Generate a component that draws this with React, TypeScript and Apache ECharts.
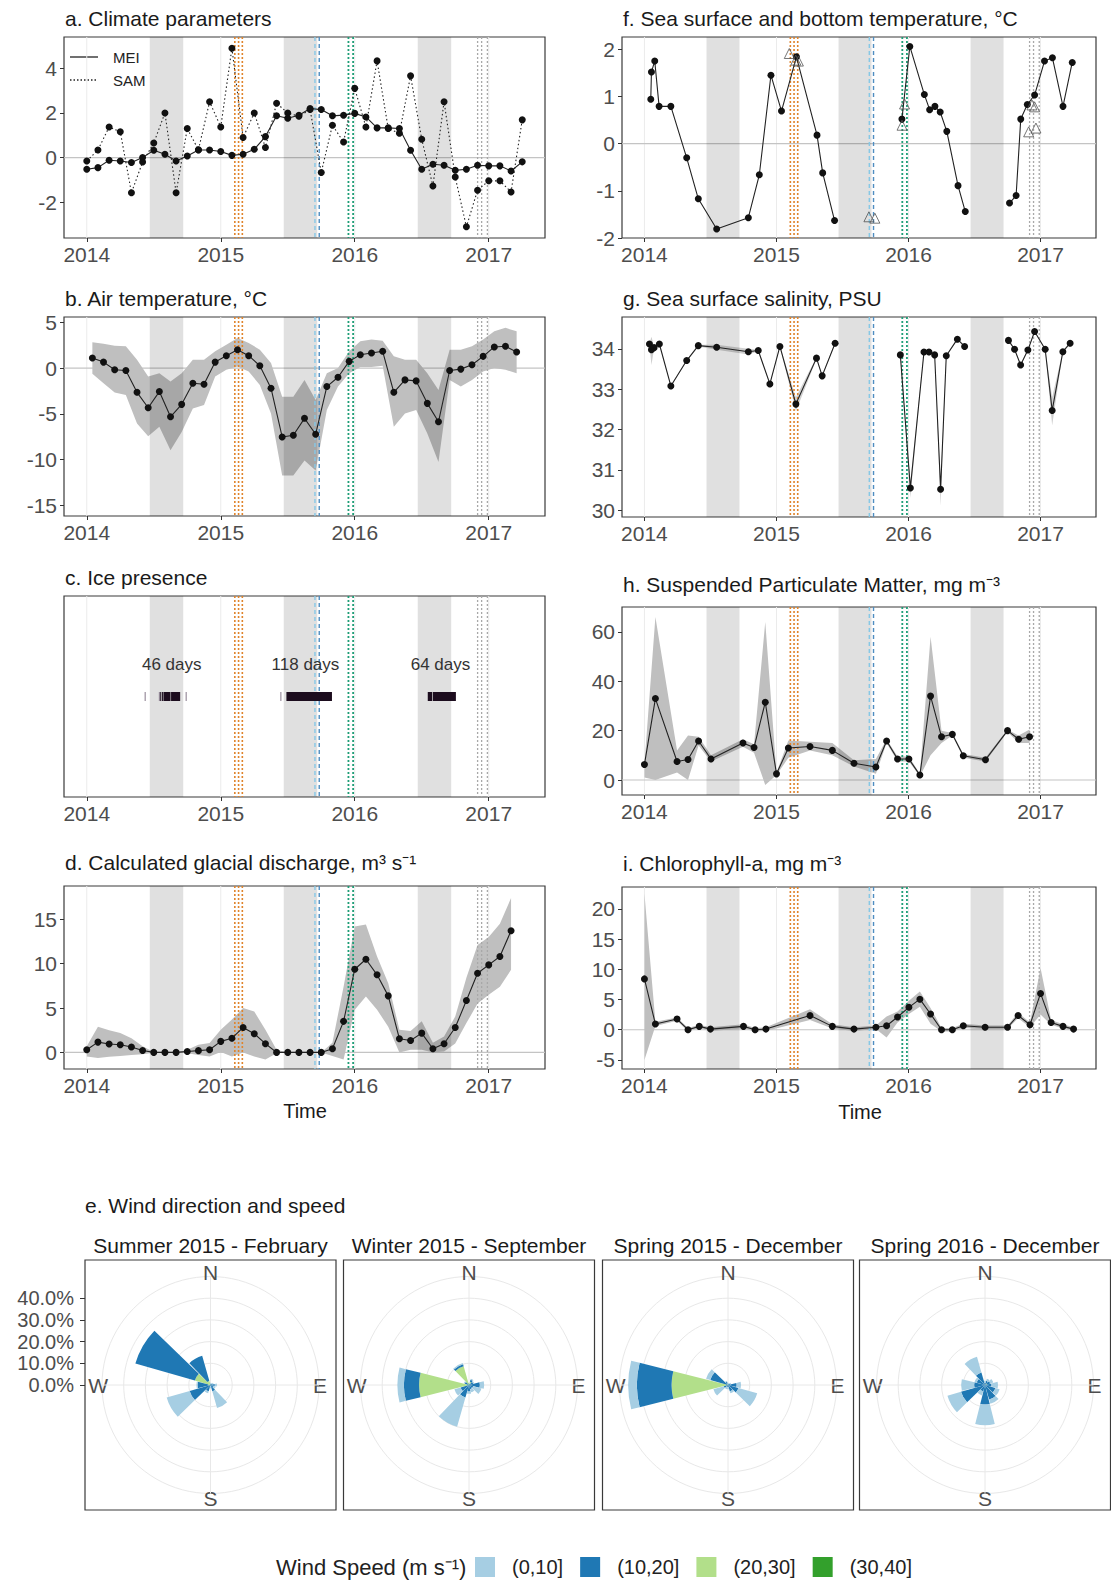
import { useEffect, useRef } from 'react';
import * as echarts from 'echarts';

const FONT = "'Liberation Sans', Arial, Helvetica, sans-serif";
const AXIS_TEXT = '#4d4d4d';

// ---------- shared time axis ----------
const YEAR_TICKS = [2014, 2015, 2016, 2017];
const X_MIN = 2013.83;
const X_MAX = 2017.42;
const WINTER_BANDS = [[2014.47, 2014.72], [2015.47, 2015.72], [2016.47, 2016.72]];
const ORANGE_DATES = [2015.105, 2015.133, 2015.161];
const BLUE_LIGHT_DATES = [2015.703];
const BLUE_DARK_DATES = [2015.735];
const GREEN_DATES = [2015.953, 2015.988];
const GRAY_DATES = [2016.917, 2016.947, 2016.99];

const MONTHS = [
  '2014-01', '2014-02', '2014-03', '2014-04', '2014-05', '2014-06', '2014-07', '2014-08', '2014-09', '2014-10', '2014-11', '2014-12',
  '2015-01', '2015-02', '2015-03', '2015-04', '2015-05', '2015-06', '2015-07', '2015-08', '2015-09', '2015-10', '2015-11', '2015-12',
  '2016-01', '2016-02', '2016-03', '2016-04', '2016-05', '2016-06', '2016-07', '2016-08', '2016-09', '2016-10', '2016-11', '2016-12',
  '2017-01', '2017-02', '2017-03', '2017-04',
];

// ---------- a. climate parameters ----------
const MEI = [
  -0.52, -0.45, -0.12, -0.15, -0.22, 0.0, 0.33, 0.15, -0.15, 0.07, 0.34, 0.34,
  0.27, 0.1, 0.15, 0.37, 0.94, 1.87, 1.76, 1.9, 2.2, 2.15, 1.87, 1.9,
  1.98, 1.82, 1.33, 1.33, 1.3, 0.33, -0.52, -0.3, -0.34, -0.57, -0.52, -0.34,
  -0.37, -0.37, -0.6, -0.19,
];
const SAM = [
  -0.15, 0.34, 1.37, 1.16, -1.57, -0.2, 0.65, 2.0, -1.57, 1.3, 0.35, 2.5,
  1.37, 4.9, 0.9, 2.0, 0.45, 2.43, 2.0, 1.85, 2.15, -0.67, 1.45, 0.7,
  3.1, 1.37, 4.33, 1.3, 1.09, 3.66, 0.82, -1.27, 2.5, -0.87, -3.1, -1.46,
  -1.04, -1.04, -1.54, 1.69,
];

// ---------- b. air temperature (monthly, mid-month) ----------
const AIR_MEAN = [
  1.1, 0.66, -0.18, -0.26, -2.65, -4.34, -2.57, -5.33, -3.97, -1.65, -1.76, 0.66,
  1.36, 2.02, 1.36, 0.26, -2.2, -7.54, -7.35, -5.5, -7.24, -2.02, -1.0, 0.74,
  1.47, 1.65, 1.84, -2.65, -1.29, -1.4, -3.86, -5.88, -0.26, -0.11, 0.37, 1.29,
  2.32, 2.39, 1.76,
];
const AIR_UPPER = [
  2.83, 2.68, 2.46, 2.39, 0.92, -0.92, -0.55, -1.47, -0.55, 0.92, 0.92, 1.84,
  2.57, 3.31, 2.76, 2.02, 0.55, -3.13, -3.13, -1.29, -3.49, -0.55, 0.0, 1.84,
  2.94, 3.13, 3.01, 1.29, 0.92, 0.92, -0.55, -2.39, 2.02, 2.02, 2.39, 3.13,
  4.04, 4.41, 4.04,
];
const AIR_LOWER = [
  -0.63, -1.65, -2.68, -2.94, -6.07, -7.46, -6.43, -9.0, -6.99, -4.41, -4.04, -0.92,
  -0.18, 0.18, -0.37, -1.84, -4.96, -11.76, -11.76, -10.11, -11.21, -4.6, -2.02, -0.55,
  0.11, 0.11, 0.26, -6.43, -4.96, -4.6, -7.17, -10.29, -1.29, -2.02, -1.29, -0.37,
  0.0, -0.18, -0.55,
];

// ---------- c. ice presence ----------
const ICE_SOLID = [
  [2014.548, 2014.556], [2014.561, 2014.567], [2014.572, 2014.625], [2014.629, 2014.697],
  [2015.49, 2015.83], [2016.545, 2016.578], [2016.583, 2016.755],
];
const ICE_FAINT = [[2014.432, 2014.437], [2014.538, 2014.543], [2014.738, 2014.742], [2015.445, 2015.449]];
const ICE_LABELS = ['46 days', '118 days', '64 days'];
const ICE_LABEL_X = [2014.634, 2015.632, 2016.64];

// ---------- d. glacial discharge (monthly) ----------
const DIS_MEAN = [
  0.3, 1.16, 0.94, 0.86, 0.6, 0.22, 0, 0, 0, 0.1, 0.2, 0.3,
  1.24, 1.6, 2.8, 2.1, 0.98, 0, 0, 0, 0, 0, 0.41, 3.5,
  9.37, 10.5, 8.74, 6.37, 1.54, 1.35, 2.17, 0.41, 0.97, 2.8, 5.85, 8.92,
  9.86, 10.8, 13.7,
];
const DIS_UPPER = [
  0.7, 2.9, 2.5, 2.2, 1.6, 0.7, 0.05, 0, 0, 0.3, 0.85, 1.05,
  2.55, 3.7, 5.0, 4.6, 2.55, 0.3, 0, 0, 0, 0, 1.1, 7.4,
  14.2, 14.4, 10.8, 7.8, 2.55, 2.4, 3.5, 1.1, 1.8, 4.05, 8.4, 12.1,
  13.0, 14.5, 17.4,
];
const DIS_LOWER = [
  -0.45, -0.64, -0.5, -0.4, -0.3, -0.2, -0.05, 0, 0, -0.1, -0.3, -0.45,
  0.05, -0.45, 0.0, -0.45, -0.8, -0.1, 0, 0, 0, 0, -0.4, -0.8,
  4.8, 6.3, 4.8, 2.9, 0.0, 0.3, 0.3, 0.0, 0.1, 1.0, 3.3, 5.5,
  6.5, 7.4, 9.3,
];

// ---------- f. sea surface / bottom temperature ----------
const SST1_X = [2014.048, 2014.053, 2014.078, 2014.111, 2014.2, 2014.32, 2014.408, 2014.547, 2014.787, 2014.87, 2014.958, 2015.038, 2015.151, 2015.307, 2015.35, 2015.44];
const SST1_Y = [0.94, 1.52, 1.75, 0.79, 0.79, -0.3, -1.17, -1.81, -1.57, -0.66, 1.45, 0.69, 1.84, 0.18, -0.62, -1.63];
const SST2_X = [2015.95, 2016.01, 2016.12, 2016.16, 2016.2, 2016.24, 2016.29, 2016.375, 2016.43];
const SST2_Y = [0.52, 2.06, 1.04, 0.72, 0.79, 0.67, 0.26, -0.89, -1.44];
const SST3_X = [2016.765, 2016.815, 2016.85, 2016.9, 2016.955, 2017.03, 2017.09, 2017.17, 2017.24];
const SST3_Y = [-1.26, -1.1, 0.52, 0.83, 1.03, 1.75, 1.82, 0.79, 1.72];
const SBT_X = [2015.097, 2015.146, 2015.166, 2015.7, 2015.745, 2015.951, 2015.97, 2016.91, 2016.935, 2016.955, 2016.965];
const SBT_Y = [1.91, 1.77, 1.75, -1.55, -1.58, 0.39, 0.84, 0.25, 0.82, 0.78, 0.33];

// ---------- g. salinity ----------
const SAL1_X = [2014.038, 2014.053, 2014.073, 2014.113, 2014.2, 2014.32, 2014.408, 2014.547, 2014.787, 2014.862, 2014.95, 2015.026, 2015.147, 2015.303, 2015.346, 2015.444];
const SAL1_Y = [34.12, 33.98, 34.03, 34.12, 33.08, 33.71, 34.08, 34.04, 33.93, 33.96, 33.13, 34.06, 32.63, 33.77, 33.33, 34.14];
const SAL1_UPPER = [34.13, 34.3, 34.05, 34.13, 33.1, 33.73, 34.1, 34.1, 34.0, 33.98, 33.15, 34.08, 32.8, 33.8, 33.36, 34.16];
const SAL1_LOWER = [34.1, 33.6, 34.0, 34.1, 33.06, 33.69, 34.06, 33.98, 33.86, 33.94, 33.11, 34.04, 32.45, 33.74, 33.3, 34.12];
const SAL2_X = [2015.938, 2016.014, 2016.117, 2016.155, 2016.198, 2016.243, 2016.286, 2016.37, 2016.425];
const SAL2_Y = [33.85, 30.55, 33.92, 33.92, 33.85, 30.52, 33.83, 34.24, 34.06];
const SAL2_UPPER = [33.87, 30.7, 33.94, 33.94, 33.87, 30.7, 33.85, 34.26, 34.08];
const SAL2_LOWER = [33.83, 30.3, 33.9, 33.9, 33.83, 30.1, 33.81, 34.22, 34.04];
const SAL3_X = [2016.757, 2016.803, 2016.849, 2016.904, 2016.955, 2017.035, 2017.088, 2017.169, 2017.224];
const SAL3_Y = [34.21, 33.99, 33.6, 33.97, 34.43, 33.99, 32.47, 33.93, 34.14];
const SAL3_UPPER = [34.23, 34.01, 33.62, 33.99, 34.45, 34.01, 32.8, 33.95, 34.16];
const SAL3_LOWER = [34.19, 33.97, 33.58, 33.95, 34.41, 33.97, 32.1, 33.91, 34.12];

// ---------- h. suspended particulate matter ----------
const SPM_X = [2014.0, 2014.083, 2014.247, 2014.33, 2014.41, 2014.504, 2014.746, 2014.83, 2014.915, 2015.0, 2015.09, 2015.254, 2015.423, 2015.587, 2015.753, 2015.834, 2015.917, 2016.003, 2016.086, 2016.167, 2016.25, 2016.332, 2016.415, 2016.583, 2016.75, 2016.834, 2016.917];
const SPM_MEAN = [6.3, 33, 7.5, 8.3, 15.8, 8.5, 15, 13.2, 31.5, 2.5, 13, 13.6, 12, 6.8, 5.3, 15.8, 8.5, 8.5, 2.0, 34, 17.5, 18.5, 9.8, 8.2, 20, 16.5, 17.5];
const SPM_UPPER = [6.5, 66, 12, 18, 17.5, 10, 16.5, 14.5, 64, 3, 16, 15.5, 15, 8, 8.5, 16.5, 9.5, 9.5, 2.5, 58, 20, 19, 10.5, 9, 20.5, 18, 20.5];
const SPM_LOWER = [1, 0, 3, 0, 14, 7.5, 13.5, 11, -2, 2, 9, 12, 10, 5.5, 2.5, 15, 7.5, 7.5, 1.5, 10, 15, 18, 9, 7.5, 19.5, 15, 15];

// ---------- i. chlorophyll-a ----------
const CHL_X = [2014.0, 2014.083, 2014.247, 2014.33, 2014.415, 2014.5, 2014.75, 2014.838, 2014.92, 2015.254, 2015.423, 2015.587, 2015.753, 2015.834, 2015.917, 2016.003, 2016.086, 2016.167, 2016.25, 2016.332, 2016.415, 2016.58, 2016.75, 2016.83, 2016.92, 2017.0, 2017.08, 2017.17, 2017.25];
const CHL_MEAN = [8.4, 0.93, 1.76, 0.0, 0.55, 0.1, 0.55, 0.0, 0.1, 2.36, 0.55, 0.1, 0.4, 0.66, 2.1, 3.7, 5.05, 2.6, 0.0, 0.0, 0.66, 0.4, 0.4, 2.36, 0.82, 6.0, 1.2, 0.55, 0.1];
const CHL_UPPER = [22.5, 1.3, 2.0, 0.3, 0.8, 0.4, 0.9, 0.3, 0.4, 3.4, 0.9, 0.4, 0.7, 2.2, 3.0, 4.8, 6.3, 3.6, 0.3, 0.3, 1.0, 0.7, 0.7, 2.8, 1.2, 10.2, 1.6, 0.9, 0.4];
const CHL_LOWER = [-5.0, 0.6, 1.5, -0.3, 0.3, -0.2, 0.2, -0.3, -0.2, 1.6, 0.2, -0.2, 0.1, -1.3, 1.2, 2.6, 3.8, 1.0, -0.3, -0.3, 0.3, 0.1, 0.1, 1.9, 0.4, 2.5, 0.8, 0.2, -0.2];

// ---------- e. wind roses (percent of time, rows = speed classes) ----------
const DIRECTIONS = ['0', '30', '60', '90', '120', '150', '180', '210', '240', '270', '300', '330'];
const SPEED_CLASSES = ['(0,10]', '(10,20]', '(20,30]', '(30,40]'];
const ROSE_TITLES = ['Summer 2015 - February', 'Winter 2015 - September', 'Spring 2015 - December', 'Spring 2016 - December'];
const ROSE_SUMMER_2015 = [
  [0.5, 0.5, 0.5, 1, 1, 8, 1, 1, 11, 0.5, 0, 0],
  [0.5, 0.5, 1, 2, 1.5, 3, 0.5, 3, 10, 5, 28.5, 12],
  [0, 0, 0, 0, 0, 0, 0, 0, 0, 1, 7, 2],
  [0, 0, 0, 0, 0, 0, 0, 0, 0, 0, 0.5, 0],
];
const ROSE_WINTER_2015 = [
  [0.5, 0.5, 0.5, 2, 4, 1.5, 1, 14, 3, 3, 0.5, 0.5],
  [0.5, 1, 2, 5, 2, 2, 3, 6, 4, 7, 1.5, 1],
  [0, 1, 0, 0, 0, 0, 0, 0, 0, 22.5, 0.5, 8],
  [0, 0.5, 0, 0, 0, 0, 0, 0, 0, 0.5, 0, 1],
];
const ROSE_SPRING_2015 = [
  [0.5, 0.5, 0.5, 2, 9, 1, 1, 1, 5, 4, 2, 0.5],
  [0.5, 0.5, 1, 4, 5, 3, 1, 1, 2, 16, 8, 1],
  [0, 0, 0, 0, 0, 0, 0, 0, 0, 25.5, 0.5, 0.5],
  [0, 0, 0, 0, 0, 0, 0, 0, 0, 0.5, 0, 0],
];
const ROSE_SPRING_2016 = [
  [1, 1, 1.5, 3, 2, 2, 9.5, 2, 6.5, 6, 1, 7.5],
  [1, 2, 1.5, 3, 5, 7, 9, 3, 11.5, 5, 4, 6],
  [0, 0, 1, 0, 0, 0, 0, 0, 0, 0, 0, 0],
  [0, 0, 0, 0, 0, 0, 0, 0, 0, 0, 0, 0],
];

// ---------- layout / styles ----------
const SPEED_COLORS = ['#A6CEE3', '#1F78B4', '#B2DF8A', '#33A02C'];
const COMPASS: Record<string, string> = { '0': 'N', '90': 'E', '180': 'S', '270': 'W' };

const PANELS = [
  { left: 64, top: 37, width: 481, height: 201, ymin: -3.6, ymax: 5.4, yt: [-2, 0, 2, 4], zero: true },
  { left: 64, top: 317, width: 481, height: 199, ymin: -16.2, ymax: 5.6, yt: [-15, -10, -5, 0, 5], zero: true },
  { left: 64, top: 596, width: 481, height: 201, ymin: -1, ymax: 1, yt: [] as number[], zero: false },
  { left: 64, top: 886, width: 481, height: 183, ymin: -1.87, ymax: 18.75, yt: [0, 5, 10, 15], zero: true },
  { left: 622, top: 37, width: 474, height: 201, ymin: -2, ymax: 2.26, yt: [-2, -1, 0, 1, 2], zero: true },
  { left: 622, top: 317, width: 474, height: 200, ymin: 29.83, ymax: 34.79, yt: [30, 31, 32, 33, 34], zero: false },
  { left: 622, top: 607, width: 474, height: 188, ymin: -6.07, ymax: 70.1, yt: [0, 20, 40, 60], zero: true },
  { left: 622, top: 887, width: 474, height: 182, ymin: -6.5, ymax: 23.6, yt: [-5, 0, 5, 10, 15, 20], zero: true },
];
const ROSE_CENTERS = [[210.5, 1385], [469, 1385], [728, 1385], [985, 1385]];
const ROSE_RADIUS = 108.5;

const dec = (ym: string, offsetMonths = 0) => {
  const [y, m] = ym.split('-').map(Number);
  return y + (m - 1 + offsetMonths) / 12;
};

function vlineSeries(gi: number, xs: number[], stroke: string, lineWidth: number, lineDash: any, z: number) {
  const ymin = PANELS[gi].ymin;
  return {
    type: 'custom', xAxisIndex: gi, yAxisIndex: gi, z, silent: true,
    data: xs.map((x) => [x, ymin]),
    encode: { x: 0, y: 1 },
    renderItem: (params: any, api: any) => {
      const cs = params.coordSys;
      const x = api.coord([api.value(0), ymin])[0];
      return {
        type: 'line',
        shape: { x1: x, y1: cs.y, x2: x, y2: cs.y + cs.height },
        style: { stroke, lineWidth, lineDash, fill: null },
      };
    },
  };
}

function zeroLineSeries(gi: number) {
  return {
    type: 'custom', xAxisIndex: gi, yAxisIndex: gi, z: 1, silent: true,
    data: [[X_MIN, 0]],
    encode: { x: 0, y: 1 },
    renderItem: (params: any, api: any) => {
      const cs = params.coordSys;
      const y = api.coord([X_MIN, 0])[1];
      return {
        type: 'line',
        shape: { x1: cs.x, y1: y, x2: cs.x + cs.width, y2: y },
        style: { stroke: '#c4c4c4', lineWidth: 1.1, fill: null },
      };
    },
  };
}

function bandSeries(gi: number) {
  const ymin = PANELS[gi].ymin;
  return {
    type: 'custom', xAxisIndex: gi, yAxisIndex: gi, z: 3, silent: true,
    data: WINTER_BANDS.map((b) => [b[0], b[1], ymin]),
    encode: { x: [0, 1], y: 2 },
    renderItem: (params: any, api: any) => {
      const cs = params.coordSys;
      const x0 = api.coord([api.value(0), ymin])[0];
      const x1 = api.coord([api.value(1), ymin])[0];
      return {
        type: 'rect',
        shape: { x: x0, y: cs.y, width: x1 - x0, height: cs.height },
        style: { fill: 'rgba(0,0,0,0.12)' },
      };
    },
  };
}

function eventSeries(gi: number) {
  return [
    vlineSeries(gi, ORANGE_DATES, '#E0842C', 1.6, [2, 2], 4),
    vlineSeries(gi, BLUE_LIGHT_DATES, '#86c8e6', 1.4, [4, 3], 4),
    vlineSeries(gi, BLUE_DARK_DATES, '#4f8dc0', 1.4, [4, 3], 4),
    vlineSeries(gi, GREEN_DATES, '#1f9e77', 1.8, [2, 2], 4),
    vlineSeries(gi, GRAY_DATES, '#a8a8a8', 1.3, [2, 2], 4),
  ];
}

function ribbonSeries(gi: number, xs: number[], lo: number[], hi: number[], fill = '#bfbfbf') {
  return {
    type: 'custom', xAxisIndex: gi, yAxisIndex: gi, z: 2, silent: true,
    data: xs.map((x, i) => [x, lo[i], hi[i]]),
    encode: { x: 0, y: [1, 2] },
    renderItem: (params: any, api: any) => {
      if (params.dataIndex !== 0) return { type: 'group', children: [] };
      const up = xs.map((x, i) => api.coord([x, hi[i]]));
      const dn = xs.map((x, i) => api.coord([x, lo[i]])).reverse();
      return { type: 'polygon', shape: { points: up.concat(dn) }, style: { fill } };
    },
  };
}

function lineSeries(gi: number, xs: number[], ys: number[], dash: any = 'solid') {
  return {
    type: 'line', xAxisIndex: gi, yAxisIndex: gi, z: 5, silent: true,
    data: xs.map((x, i) => [x, ys[i]]),
    symbol: 'circle', symbolSize: 7, showSymbol: true,
    itemStyle: { color: '#111' },
    lineStyle: { color: '#222', width: 1.1, type: dash },
  };
}

function buildOption() {
  const grids: any[] = PANELS.map((p) => ({
    left: p.left, top: p.top, width: p.width, height: p.height,
    show: true, borderColor: '#3a3a3a', borderWidth: 1.2, backgroundColor: 'transparent',
  }));
  grids.push({ left: 85, top: ROSE_CENTERS[0][1] - ROSE_RADIUS * 0.8, width: 1, height: ROSE_RADIUS * 0.8, show: false });

  const xAxes: any[] = PANELS.map((_, i) => ({
    gridIndex: i, type: 'value', min: X_MIN, max: X_MAX, position: 'bottom',
    axisLine: { show: false, onZero: false },
    axisTick: { show: true, customValues: YEAR_TICKS, length: 4, lineStyle: { color: '#333' } },
    axisLabel: {
      customValues: YEAR_TICKS, margin: 6, fontSize: 21, color: AXIS_TEXT, fontFamily: FONT,
      formatter: (v: number) => String(Math.round(v)),
    },
    splitLine: { show: false },
  }));
  xAxes.push({ gridIndex: 8, type: 'value', min: 0, max: 1, show: false });

  const yAxes: any[] = PANELS.map((p, i) => ({
    gridIndex: i, type: 'value', min: p.ymin, max: p.ymax, position: 'left',
    axisLine: { show: false, onZero: false },
    axisTick: { show: p.yt.length > 0, customValues: p.yt, length: 4, lineStyle: { color: '#333' } },
    axisLabel: {
      show: p.yt.length > 0, customValues: p.yt, margin: 7, fontSize: 21, color: AXIS_TEXT, fontFamily: FONT,
      formatter: (v: number) => String(Math.round(v)),
    },
    splitLine: { show: false },
  }));
  yAxes.push({
    gridIndex: 8, type: 'value', min: 0, max: 40, interval: 10, position: 'left',
    axisLine: { show: false, onZero: false },
    axisTick: { show: true, length: 5, lineStyle: { color: '#333' } },
    axisLabel: { margin: 11, fontSize: 20, color: AXIS_TEXT, fontFamily: FONT, formatter: (v: number) => v.toFixed(1) + '%' },
    splitLine: { show: false },
  });

  const series: any[] = [];
  PANELS.forEach((p, gi) => {
    series.push(vlineSeries(gi, YEAR_TICKS, '#ebebeb', 1, null, 0));
    if (p.zero) series.push(zeroLineSeries(gi));
    series.push(bandSeries(gi));
    series.push(...eventSeries(gi));
  });

  const monthX = MONTHS.map((m) => dec(m));
  const midMonthX = MONTHS.slice(0, AIR_MEAN.length).map((m) => dec(m, 0.5));
  const disX = MONTHS.slice(0, DIS_MEAN.length).map((m) => dec(m));

  // a
  series.push(lineSeries(0, monthX, SAM, [1.5, 2.5]));
  series.push(lineSeries(0, monthX, MEI, 'solid'));
  // b
  series.push(ribbonSeries(1, midMonthX, AIR_LOWER, AIR_UPPER));
  series.push(lineSeries(1, midMonthX, AIR_MEAN));
  // c
  const iceBars = (rows: number[][], fill: string) => ({
    type: 'custom', xAxisIndex: 2, yAxisIndex: 2, z: 5, silent: true,
    data: rows.map((d) => [d[0], d[1], 0]),
    encode: { x: [0, 1], y: 2 },
    renderItem: (params: any, api: any) => {
      const p0 = api.coord([api.value(0), 0]);
      const p1 = api.coord([api.value(1), 0]);
      return { type: 'rect', shape: { x: p0[0], y: p0[1] - 4.5, width: Math.max(p1[0] - p0[0], 1), height: 9 }, style: { fill } };
    },
  });
  series.push(iceBars(ICE_SOLID, '#1c0c1e'));
  series.push(iceBars(ICE_FAINT, '#85788a'));
  series.push({
    type: 'custom', xAxisIndex: 2, yAxisIndex: 2, z: 6, silent: true,
    data: ICE_LABEL_X.map((x) => [x, 0.32]),
    encode: { x: 0, y: 1 },
    renderItem: (params: any, api: any) => {
      const p = api.coord([api.value(0), api.value(1)]);
      return {
        type: 'text', x: p[0], y: p[1],
        style: {
          text: ICE_LABELS[params.dataIndex], fill: '#333', font: `17px ${FONT}`,
          align: 'center', verticalAlign: 'middle', textAlign: 'center', textVerticalAlign: 'middle',
        },
      };
    },
  });
  // d
  series.push(ribbonSeries(3, disX, DIS_LOWER, DIS_UPPER));
  series.push(lineSeries(3, disX, DIS_MEAN));
  // f
  series.push(lineSeries(4, SST1_X, SST1_Y));
  series.push(lineSeries(4, SST2_X, SST2_Y));
  series.push(lineSeries(4, SST3_X, SST3_Y));
  series.push({
    type: 'scatter', xAxisIndex: 4, yAxisIndex: 4, z: 6, silent: true,
    data: SBT_X.map((x, i) => [x, SBT_Y[i]]),
    symbol: 'triangle', symbolSize: 10,
    itemStyle: { color: 'rgba(255,255,255,0)', borderColor: '#555', borderWidth: 1 },
  });
  // g
  series.push(ribbonSeries(5, SAL1_X, SAL1_LOWER, SAL1_UPPER, '#cfcfcf'));
  series.push(ribbonSeries(5, SAL2_X, SAL2_LOWER, SAL2_UPPER, '#cfcfcf'));
  series.push(ribbonSeries(5, SAL3_X, SAL3_LOWER, SAL3_UPPER, '#cfcfcf'));
  series.push(lineSeries(5, SAL1_X, SAL1_Y));
  series.push(lineSeries(5, SAL2_X, SAL2_Y));
  series.push(lineSeries(5, SAL3_X, SAL3_Y));
  // h
  series.push(ribbonSeries(6, SPM_X, SPM_LOWER, SPM_UPPER));
  series.push(lineSeries(6, SPM_X, SPM_MEAN));
  // i
  series.push(ribbonSeries(7, CHL_X, CHL_LOWER, CHL_UPPER));
  series.push(lineSeries(7, CHL_X, CHL_MEAN));

  // wind roses
  const roses = [ROSE_SUMMER_2015, ROSE_WINTER_2015, ROSE_SPRING_2015, ROSE_SPRING_2016];
  const polar: any[] = [];
  const angleAxis: any[] = [];
  const radiusAxis: any[] = [];
  ROSE_CENTERS.forEach((c, k) => {
    polar.push({ center: c, radius: ROSE_RADIUS });
    angleAxis.push({
      polarIndex: k, type: 'category', data: DIRECTIONS, startAngle: 105, clockwise: true,
      axisLine: { show: false }, axisTick: { show: false }, splitLine: { show: false },
      axisLabel: { interval: 0, margin: -6, fontSize: 21, color: AXIS_TEXT, fontFamily: FONT, formatter: (v: string) => COMPASS[v] || '' },
    });
    radiusAxis.push({
      polarIndex: k, type: 'value', min: 0, max: 50, interval: 10,
      axisLine: { show: false }, axisTick: { show: false }, axisLabel: { show: false },
      splitLine: { show: true, lineStyle: { color: '#e8e8e8', width: 1 } },
    });
  });
  ROSE_CENTERS.forEach((c, k) => {
    polar.push({ center: c, radius: ROSE_RADIUS });
    angleAxis.push({
      polarIndex: 4 + k, type: 'value', min: 0, max: 360, interval: 90, startAngle: 90,
      axisLine: { show: false }, axisTick: { show: false }, axisLabel: { show: false },
      splitLine: { show: true, lineStyle: { color: '#e8e8e8', width: 1 } },
    });
    radiusAxis.push({
      polarIndex: 4 + k, type: 'value', min: 0, max: 50,
      axisLine: { show: false }, axisTick: { show: false }, axisLabel: { show: false }, splitLine: { show: false },
    });
  });
  roses.forEach((rose, k) => {
    for (let s = SPEED_CLASSES.length - 1; s >= 0; s--) {
      series.push({
        type: 'bar', coordinateSystem: 'polar', polarIndex: k, stack: 'rose' + k,
        name: SPEED_CLASSES[s], data: rose[s], barCategoryGap: '6%', silent: true,
        itemStyle: { color: SPEED_COLORS[s] }, z: 3,
      });
    }
  });

  const text = (t: string, x: number, y: number, opts: any = {}) => ({
    type: 'text', x, y, silent: true,
    style: {
      text: t, fill: opts.fill || '#1a1a1a', font: `${opts.size || 21}px ${FONT}`,
      align: opts.align || 'left', textAlign: opts.align || 'left',
      verticalAlign: 'middle', textVerticalAlign: 'middle',
    },
  });

  const graphic: any[] = [
    text('a. Climate parameters', 65, 18),
    text('f. Sea surface and bottom temperature, °C', 623, 18),
    text('b. Air temperature, °C', 65, 298),
    text('g. Sea surface salinity, PSU', 623, 298),
    text('c. Ice presence', 65, 577),
    text('h. Suspended Particulate Matter, mg m⁻³', 623, 584),
    text('d. Calculated glacial discharge, m³ s⁻¹', 65, 862),
    text('i. Chlorophyll-a, mg m⁻³', 623, 863),
    text('Time', 305, 1111, { align: 'center', size: 20 }),
    text('Time', 860, 1112, { align: 'center', size: 20 }),
    text('e. Wind direction and speed', 85, 1205),
    text('Wind Speed (m s⁻¹)', 276, 1567, { size: 22, fill: '#222' }),
    // panel a inner legend
    { type: 'line', silent: true, shape: { x1: 70, y1: 57, x2: 98, y2: 57 }, style: { stroke: '#222', lineWidth: 1.3 } },
    { type: 'line', silent: true, shape: { x1: 70, y1: 80, x2: 98, y2: 80 }, style: { stroke: '#222', lineWidth: 1.3, lineDash: [1.5, 2] } },
    text('MEI', 113, 57, { size: 15, fill: '#222' }),
    text('SAM', 113, 80, { size: 15, fill: '#222' }),
  ];
  ROSE_CENTERS.forEach((c, k) => {
    graphic.push(text(ROSE_TITLES[k], c[0], 1245, { align: 'center' }));
    graphic.push({
      type: 'rect', silent: true, z: 10,
      shape: { x: c[0] - 125.5, y: 1260, width: 251, height: 250 },
      style: { fill: 'none', stroke: '#3a3a3a', lineWidth: 1.2 },
    });
  });

  return {
    animation: false,
    backgroundColor: '#ffffff',
    textStyle: { fontFamily: FONT },
    grid: grids,
    xAxis: xAxes,
    yAxis: yAxes,
    polar,
    angleAxis,
    radiusAxis,
    legend: {
      data: SPEED_CLASSES, left: 475, top: 1557, padding: 0,
      icon: 'rect', itemWidth: 20, itemHeight: 20, itemGap: 17, selectedMode: false,
      textStyle: { fontSize: 20, color: '#222', fontFamily: FONT, padding: [0, 0, 0, 12] },
    },
    graphic,
    series,
  };
}

export default function App() {
  const ref = useRef<HTMLDivElement>(null);
  useEffect(() => {
    const chart = echarts.init(ref.current!, null, { renderer: 'svg' });
    chart.setOption(buildOption() as any);
    return () => chart.dispose();
  }, []);
  return (
    <div
      ref={ref}
      style={{ position: 'absolute', left: 0, top: 0, width: 1111, height: 1585, background: '#fff' }}
    />
  );
}
